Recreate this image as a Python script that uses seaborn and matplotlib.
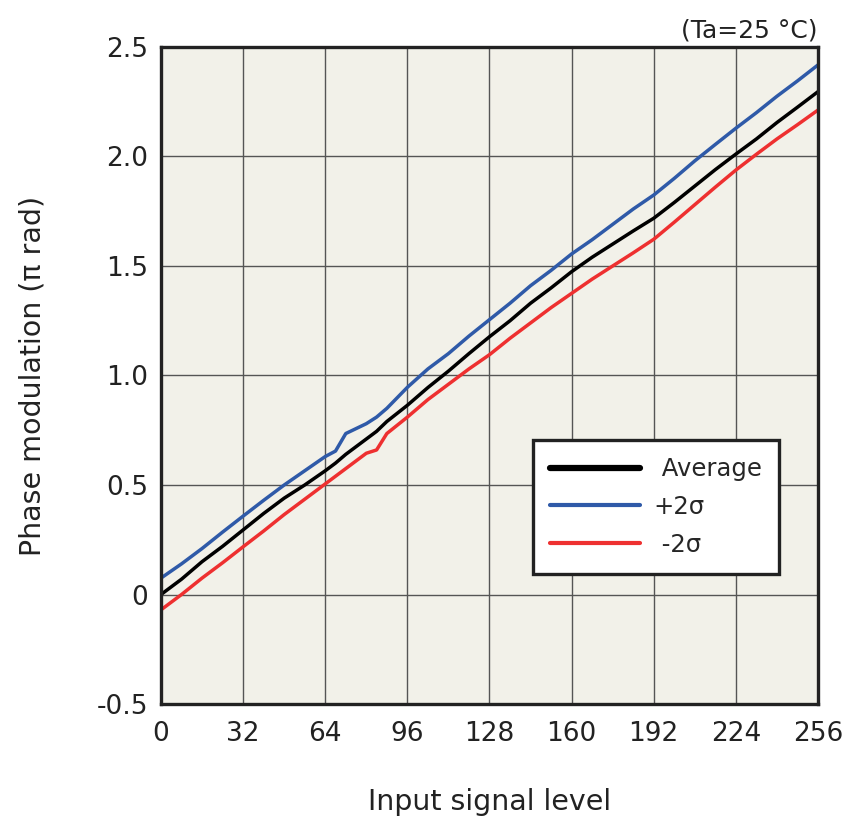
import matplotlib
matplotlib.use("Agg")
import matplotlib.pyplot as plt
import seaborn as sns
import pandas as pd

# ---- data ----
x_levels = [0, 8, 16, 24, 32, 40, 48, 56, 64, 68, 72, 80, 84, 88, 96, 104, 112, 120,
            128, 136, 144, 152, 160, 168, 176, 184, 192, 200, 208, 216, 224, 232,
            240, 248, 256]
average = [0.00, 0.07, 0.15, 0.22, 0.295, 0.37, 0.44, 0.50, 0.565, 0.60, 0.64, 0.71,
           0.745, 0.79, 0.864, 0.945, 1.02, 1.10, 1.177, 1.25, 1.33, 1.40, 1.474,
           1.54, 1.60, 1.66, 1.718, 1.79, 1.865, 1.94, 2.011, 2.08, 2.155, 2.225, 2.296]
plus_2sigma = [0.075, 0.14, 0.21, 0.285, 0.358, 0.43, 0.50, 0.565, 0.63, 0.655, 0.735,
               0.78, 0.81, 0.85, 0.946, 1.03, 1.10, 1.18, 1.255, 1.33, 1.41, 1.48,
               1.555, 1.62, 1.69, 1.76, 1.824, 1.90, 1.98, 2.055, 2.129, 2.20, 2.275,
               2.345, 2.418]
minus_2sigma = [-0.07, 0.00, 0.075, 0.145, 0.218, 0.29, 0.365, 0.435, 0.505, 0.54,
                0.575, 0.645, 0.66, 0.735, 0.81, 0.89, 0.96, 1.03, 1.095, 1.17, 1.24,
                1.31, 1.375, 1.44, 1.50, 1.56, 1.622, 1.70, 1.78, 1.86, 1.938, 2.01,
                2.08, 2.145, 2.212]
series_labels = [" Average", "+2σ", " -2σ"]
x_ticks = [0, 32, 64, 96, 128, 160, 192, 224, 256]
y_ticks = [-0.5, 0.0, 0.5, 1.0, 1.5, 2.0, 2.5]
y_tick_labels = ["-0.5", "0", "0.5", "1.0", "1.5", "2.0", "2.5"]

df = pd.DataFrame({"x": x_levels, "avg": average, "plus": plus_2sigma, "minus": minus_2sigma})

sns.set_style("white")
plt.rcParams["font.family"] = ["DejaVu Sans"]

fig = plt.figure(figsize=(8.46, 8.27), dpi=100)
ax = fig.add_axes([0.1903, 0.1487, 0.7766, 0.7945])
ax.set_facecolor("#f2f1e9")

sns.lineplot(data=df, x="x", y="avg", ax=ax, color="#000000", lw=2.5, label=series_labels[0])
sns.lineplot(data=df, x="x", y="plus", ax=ax, color="#2f5aa8", lw=2.5, label=series_labels[1])
sns.lineplot(data=df, x="x", y="minus", ax=ax, color="#ee3030", lw=2.5, label=series_labels[2])

ax.set_xlim(0, 256)
ax.set_ylim(-0.5, 2.5)
ax.set_xticks(x_ticks)
ax.set_yticks(y_ticks)
ax.set_yticklabels(y_tick_labels)
ax.grid(True, color="#555555", lw=1.0)
ax.set_axisbelow(True)
ax.tick_params(axis="both", length=0, labelsize=19, colors="#222222")
ax.tick_params(axis="x", pad=12)
ax.tick_params(axis="y", pad=9)
for s in ax.spines.values():
    s.set_linewidth(2.4)
    s.set_color("#222222")

ax.set_xlabel("Input signal level", fontsize=20.5, color="#222222", labelpad=30)
ax.set_ylabel("Phase modulation (π rad)", fontsize=20.5, color="#222222", labelpad=36)
ax.set_title("(Ta=25 °C)", loc="right", fontsize=18, color="#222222", pad=7)

leg = ax.legend(loc="upper left", bbox_to_anchor=(0.566, 0.402), fontsize=17.5,
                frameon=True, fancybox=False, framealpha=1, edgecolor="#222222",
                handlelength=3.7, handletextpad=0.55, labelspacing=0.56,
                borderpad=0.72, borderaxespad=0)
leg.get_frame().set_linewidth(2.4)
lws = [4.5, 3.0, 3.0]
for h, w in zip(leg.get_lines(), lws):
    h.set_linewidth(w)

fig.savefig("out.png", dpi=100)
